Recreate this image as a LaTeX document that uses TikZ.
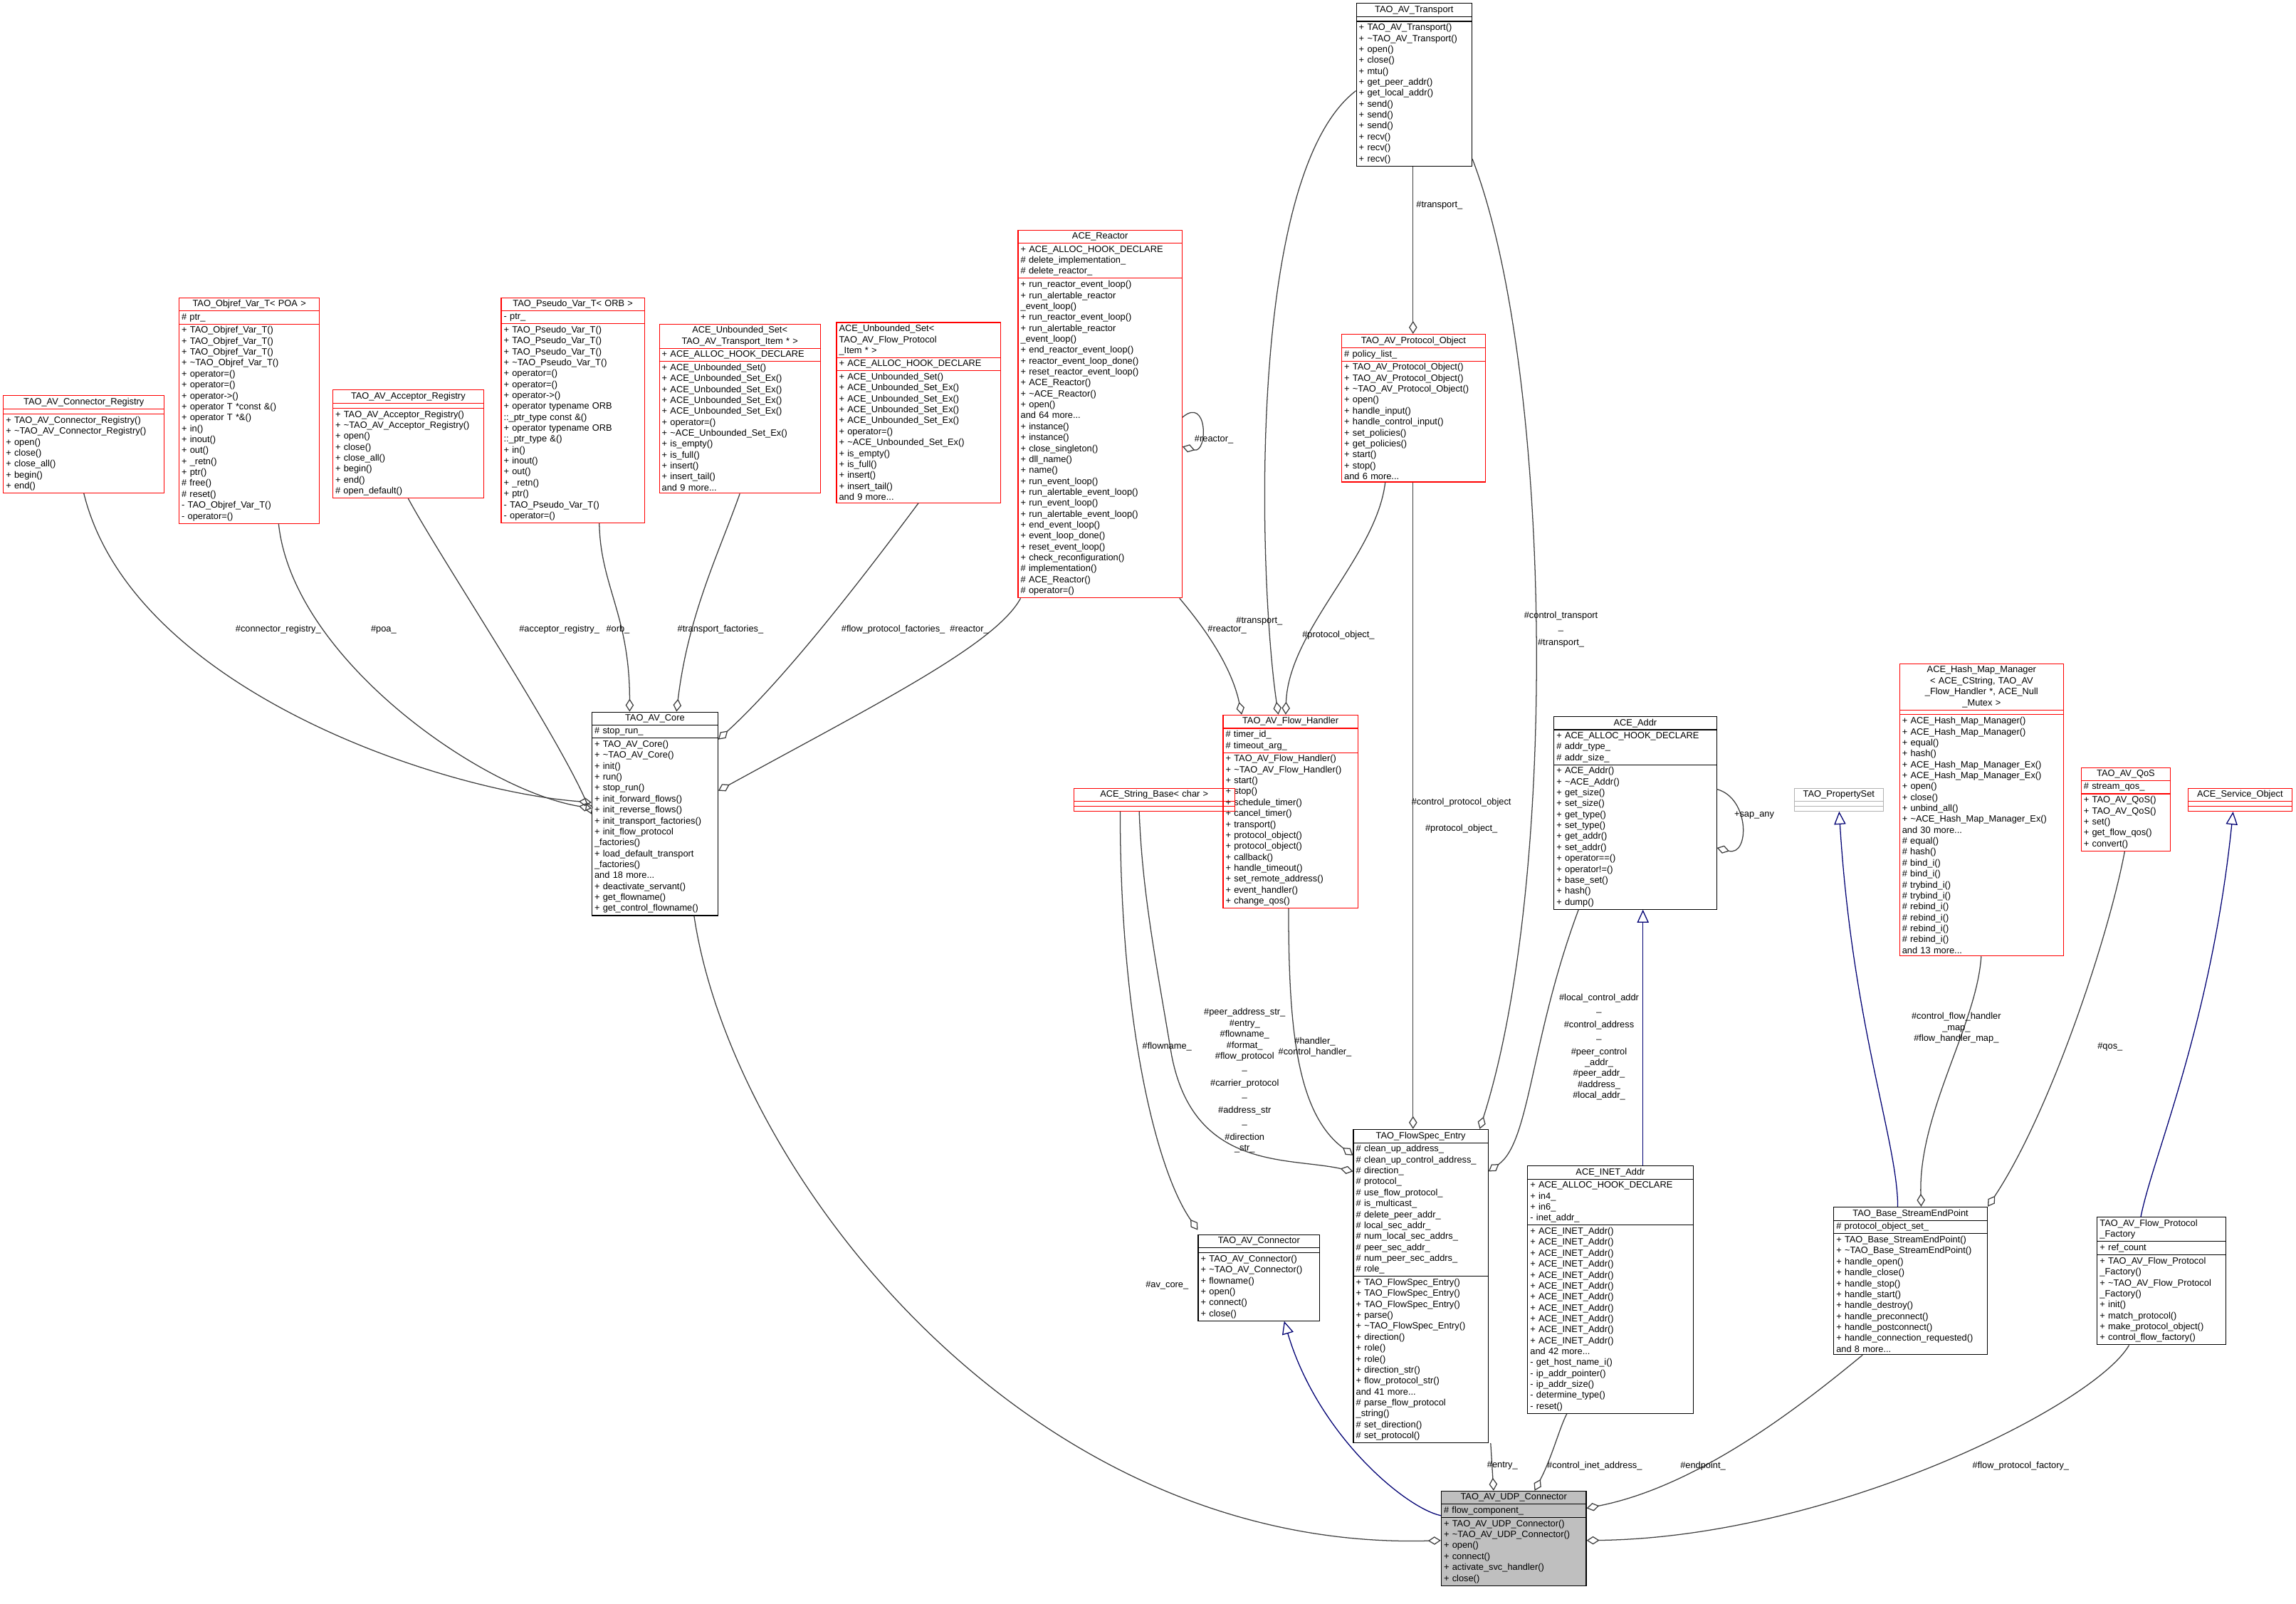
\documentclass[tikz,border=0pt]{standalone}
\usepackage{fontspec}
\setmainfont{Liberation Sans}
\usetikzlibrary{shapes.multipart, arrows.meta, calc}
\newcommand{\dt}{\textasciitilde}

\begin{document}
\catcode`\_=12
\begin{tikzpicture}[
    x=0.02cm, y=-0.02cm,
    cls/.style={rectangle split, rectangle split parts=3, draw=red, line width=0.3pt, anchor=north west,
        align=left, inner xsep=1pt, inner ysep=0.8pt, rectangle split empty part height=4pt,
        font=\fontsize{3.55}{4.25}\selectfont},
    blk/.style={cls, draw=black},
    member/.style={draw=black!75, line width=0.35pt, {Diamond[open, length=5pt, width=3.2pt]}-},
    inherit/.style={draw=blue!45!black, line width=0.35pt, {Triangle[open, length=5pt, width=4.5pt]}-},
    elabel/.style={font=\fontsize{3.55}{4.25}\selectfont, align=center}
]
\useasboundingbox (0,0) rectangle (1568,1095);

% === top row ===
\node[blk, text width=1.51cm] (transport) at (926,2) {\centering TAO_AV_Transport\par
  \nodepart{two}\mbox{}
  \nodepart{three}+ TAO_AV_Transport()\\+ \dt TAO_AV_Transport()\\+ open()\\+ close()\\+ mtu()\\+ get_peer_addr()\\+ get_local_addr()\\+ send()\\+ send()\\+ send()\\+ recv()\\+ recv()\\+ recv()};

\node[cls, text width=2.13cm] (connreg) at (2,270) {\centering TAO_AV_Connector_Registry\par
  \nodepart{two}\mbox{}
  \nodepart{three}+ TAO_AV_Connector_Registry()\\+ \dt TAO_AV_Connector_Registry()\\+ open()\\+ close()\\+ close_all()\\+ begin()\\+ end()};

\node[cls, text width=1.85cm] (objref) at (122,203) {\centering TAO_Objref_Var_T< POA >\par
  \nodepart{two}\# ptr_
  \nodepart{three}+ TAO_Objref_Var_T()\\+ TAO_Objref_Var_T()\\+ TAO_Objref_Var_T()\\+ \dt TAO_Objref_Var_T()\\+ operator=()\\+ operator=()\\+ operator->()\\+ operator T *const \&()\\+ operator T *\&()\\+ in()\\+ inout()\\+ out()\\+ _retn()\\+ ptr()\\\# free()\\\# reset()\\- TAO_Objref_Var_T()\\- operator=()};

\node[cls, text width=1.99cm] (accreg) at (227,266) {\centering TAO_AV_Acceptor_Registry\par
  \nodepart{two}\mbox{}
  \nodepart{three}+ TAO_AV_Acceptor_Registry()\\+ \dt TAO_AV_Acceptor_Registry()\\+ open()\\+ close()\\+ close_all()\\+ begin()\\+ end()\\\# open_default()};

\node[cls, text width=1.89cm] (pseudo) at (342,203) {\centering TAO_Pseudo_Var_T< ORB >\par
  \nodepart{two}- ptr_
  \nodepart{three}+ TAO_Pseudo_Var_T()\\+ TAO_Pseudo_Var_T()\\+ TAO_Pseudo_Var_T()\\+ \dt TAO_Pseudo_Var_T()\\+ operator=()\\+ operator=()\\+ operator->()\\+ operator typename ORB\\ ::_ptr_type const \&()\\+ operator typename ORB\\ ::_ptr_type \&()\\+ in()\\+ inout()\\+ out()\\+ _retn()\\+ ptr()\\- TAO_Pseudo_Var_T()\\- operator=()};

\node[cls, text width=2.13cm] (unbtrans) at (450,221) {\centering ACE_Unbounded_Set<\\TAO_AV_Transport_Item * >\par
  \nodepart{two}+ ACE_ALLOC_HOOK_DECLARE
  \nodepart{three}+ ACE_Unbounded_Set()\\+ ACE_Unbounded_Set_Ex()\\+ ACE_Unbounded_Set_Ex()\\+ ACE_Unbounded_Set_Ex()\\+ ACE_Unbounded_Set_Ex()\\+ operator=()\\+ \dt ACE_Unbounded_Set_Ex()\\+ is_empty()\\+ is_full()\\+ insert()\\+ insert_tail()\\and 9 more...};

\node[cls, text width=2.17cm] (unbflow) at (571,220) {\raggedright ACE_Unbounded_Set<\\ TAO_AV_Flow_Protocol\\ _Item * >
  \nodepart{two}+ ACE_ALLOC_HOOK_DECLARE
  \nodepart{three}+ ACE_Unbounded_Set()\\+ ACE_Unbounded_Set_Ex()\\+ ACE_Unbounded_Set_Ex()\\+ ACE_Unbounded_Set_Ex()\\+ ACE_Unbounded_Set_Ex()\\+ operator=()\\+ \dt ACE_Unbounded_Set_Ex()\\+ is_empty()\\+ is_full()\\+ insert()\\+ insert_tail()\\and 9 more...};

\node[cls, text width=2.17cm] (reactor) at (695,157) {\centering ACE_Reactor\par
  \nodepart{two}+ ACE_ALLOC_HOOK_DECLARE\\\# delete_implementation_\\\# delete_reactor_
  \nodepart{three}+ run_reactor_event_loop()\\+ run_alertable_reactor\\ _event_loop()\\+ run_reactor_event_loop()\\+ run_alertable_reactor\\ _event_loop()\\+ end_reactor_event_loop()\\+ reactor_event_loop_done()\\+ reset_reactor_event_loop()\\+ ACE_Reactor()\\+ \dt ACE_Reactor()\\+ open()\\and 64 more...\\+ instance()\\+ instance()\\+ close_singleton()\\+ dll_name()\\+ name()\\+ run_event_loop()\\+ run_alertable_event_loop()\\+ run_event_loop()\\+ run_alertable_event_loop()\\+ end_event_loop()\\+ event_loop_done()\\+ reset_event_loop()\\+ check_reconfiguration()\\\# implementation()\\\# ACE_Reactor()\\\# operator=()};

\node[cls, text width=1.89cm] (protobj) at (916,228) {\centering TAO_AV_Protocol_Object\par
  \nodepart{two}\# policy_list_
  \nodepart{three}+ TAO_AV_Protocol_Object()\\+ TAO_AV_Protocol_Object()\\+ \dt TAO_AV_Protocol_Object()\\+ open()\\+ handle_input()\\+ handle_control_input()\\+ set_policies()\\+ get_policies()\\+ start()\\+ stop()\\and 6 more...};

% === middle row ===
\node[blk, text width=1.65cm] (core) at (404,486) {\centering TAO_AV_Core\par
  \nodepart{two}\# stop_run_
  \nodepart{three}+ TAO_AV_Core()\\+ \dt TAO_AV_Core()\\+ init()\\+ run()\\+ stop_run()\\+ init_forward_flows()\\+ init_reverse_flows()\\+ init_transport_factories()\\+ init_flow_protocol\\ _factories()\\+ load_default_transport\\ _factories()\\and 18 more...\\+ deactivate_servant()\\+ get_flowname()\\+ get_control_flowname()};

\node[cls, text width=1.77cm] (handler) at (835,488) {\centering TAO_AV_Flow_Handler\par
  \nodepart{two}\# timer_id_\\\# timeout_arg_
  \nodepart{three}+ TAO_AV_Flow_Handler()\\+ \dt TAO_AV_Flow_Handler()\\+ start()\\+ stop()\\+ schedule_timer()\\+ cancel_timer()\\+ transport()\\+ protocol_object()\\+ protocol_object()\\+ callback()\\+ handle_timeout()\\+ set_remote_address()\\+ event_handler()\\+ change_qos()};

\node[cls, text width=2.13cm] (strbase) at (733,538) {\centering ACE_String_Base< char >\par
  \nodepart{two}\mbox{}
  \nodepart{three}\mbox{}};

\node[blk, text width=2.15cm] (addr) at (1061,489) {\centering ACE_Addr\par
  \nodepart{two}+ ACE_ALLOC_HOOK_DECLARE\\\# addr_type_\\\# addr_size_
  \nodepart{three}+ ACE_Addr()\\+ \dt ACE_Addr()\\+ get_size()\\+ set_size()\\+ get_type()\\+ set_type()\\+ get_addr()\\+ set_addr()\\+ operator==()\\+ operator!=()\\+ base_set()\\+ hash()\\+ dump()};

\node[cls, draw=black!30, text width=1.15cm] (propset) at (1225,538) {\centering TAO_PropertySet\par
  \nodepart{two}\mbox{}
  \nodepart{three}\mbox{}};

\node[cls, text width=2.17cm] (hashmap) at (1297,453) {\centering ACE_Hash_Map_Manager\\< ACE_CString, TAO_AV\\_Flow_Handler *, ACE_Null\\_Mutex >\par
  \nodepart{two}\mbox{}
  \nodepart{three}+ ACE_Hash_Map_Manager()\\+ ACE_Hash_Map_Manager()\\+ equal()\\+ hash()\\+ ACE_Hash_Map_Manager_Ex()\\+ ACE_Hash_Map_Manager_Ex()\\+ open()\\+ close()\\+ unbind_all()\\+ \dt ACE_Hash_Map_Manager_Ex()\\and 30 more...\\\# equal()\\\# hash()\\\# bind_i()\\\# bind_i()\\\# trybind_i()\\\# trybind_i()\\\# rebind_i()\\\# rebind_i()\\\# rebind_i()\\\# rebind_i()\\and 13 more...};

\node[cls, text width=1.15cm] (qos) at (1421,524) {\centering TAO_AV_QoS\par
  \nodepart{two}\# stream_qos_
  \nodepart{three}+ TAO_AV_QoS()\\+ TAO_AV_QoS()\\+ set()\\+ get_flow_qos()\\+ convert()};

\node[cls, text width=1.35cm] (svcobj) at (1494,538) {\centering ACE_Service_Object\par
  \nodepart{two}\mbox{}
  \nodepart{three}\mbox{}};

% === lower row ===
\node[blk, text width=1.77cm] (flowspec) at (924,771) {\centering TAO_FlowSpec_Entry\par
  \nodepart{two}\# clean_up_address_\\\# clean_up_control_address_\\\# direction_\\\# protocol_\\\# use_flow_protocol_\\\# is_multicast_\\\# delete_peer_addr_\\\# local_sec_addr_\\\# num_local_sec_addrs_\\\# peer_sec_addr_\\\# num_peer_sec_addrs_\\\# role_
  \nodepart{three}+ TAO_FlowSpec_Entry()\\+ TAO_FlowSpec_Entry()\\+ TAO_FlowSpec_Entry()\\+ parse()\\+ \dt TAO_FlowSpec_Entry()\\+ direction()\\+ role()\\+ role()\\+ direction_str()\\+ flow_protocol_str()\\and 41 more...\\\# parse_flow_protocol\\ _string()\\\# set_direction()\\\# set_protocol()};

\node[blk, text width=2.19cm] (inet) at (1043,796) {\centering ACE_INET_Addr\par
  \nodepart{two}+ ACE_ALLOC_HOOK_DECLARE\\+ in4_\\+ in6_\\- inet_addr_
  \nodepart{three}+ ACE_INET_Addr()\\+ ACE_INET_Addr()\\+ ACE_INET_Addr()\\+ ACE_INET_Addr()\\+ ACE_INET_Addr()\\+ ACE_INET_Addr()\\+ ACE_INET_Addr()\\+ ACE_INET_Addr()\\+ ACE_INET_Addr()\\+ ACE_INET_Addr()\\+ ACE_INET_Addr()\\and 42 more...\\- get_host_name_i()\\- ip_addr_pointer()\\- ip_addr_size()\\- determine_type()\\- reset()};

\node[blk, text width=1.59cm] (avconn) at (818,843) {\centering TAO_AV_Connector\par
  \nodepart{two}\mbox{}
  \nodepart{three}+ TAO_AV_Connector()\\+ \dt TAO_AV_Connector()\\+ flowname()\\+ open()\\+ connect()\\+ close()};

\node[blk, text width=2.03cm] (endpoint) at (1252,824) {\centering TAO_Base_StreamEndPoint\par
  \nodepart{two}\# protocol_object_set_
  \nodepart{three}+ TAO_Base_StreamEndPoint()\\+ \dt TAO_Base_StreamEndPoint()\\+ handle_open()\\+ handle_close()\\+ handle_stop()\\+ handle_start()\\+ handle_destroy()\\+ handle_preconnect()\\+ handle_postconnect()\\+ handle_connection_requested()\\and 8 more...};

\node[blk, text width=1.69cm] (factory) at (1432,831) {\raggedright TAO_AV_Flow_Protocol\\ _Factory
  \nodepart{two}+ ref_count
  \nodepart{three}+ TAO_AV_Flow_Protocol\\ _Factory()\\+ \dt TAO_AV_Flow_Protocol\\ _Factory()\\+ init()\\+ match_protocol()\\+ make_protocol_object()\\+ control_flow_factory()};

\node[blk, fill=black!25, text width=1.91cm] (udp) at (984,1018) {\centering TAO_AV_UDP_Connector\par
  \nodepart{two}\# flow_component_
  \nodepart{three}+ TAO_AV_UDP_Connector()\\+ \dt TAO_AV_UDP_Connector()\\+ open()\\+ connect()\\+ activate_svc_handler()\\+ close()};

% === members of TAO_AV_Core ===
\draw[member] ($(core.north west)+(0,62)$) .. controls (300,540) and (90,470) .. (connreg.south);
\draw[member] ($(core.north west)+(0,66)$) .. controls (330,540) and (200,450) .. ($(objref.south)+(20,0)$);
\draw[member] ($(core.north west)+(0,70)$) .. controls (380,500) and (300,380) .. (accreg.south);
\draw[member] ($(core.north west)+(26,0)$) .. controls (430,420) and (410,400) .. ($(pseudo.south)+(18,0)$);
\draw[member] ($(core.north west)+(58,0)$) .. controls (470,420) and (490,380) .. (unbtrans.south);
\draw[member] ($(core.north east)+(0,19)$) .. controls (540,460) and (600,380) .. (unbflow.south);
\draw[member] ($(core.north east)+(0,54)$) .. controls (600,480) and (680,440) .. ($(reactor.south west)+(2,0)$);
\node[elabel] (lconnreg) at (190,430) {\#connector_registry_};
\node[elabel] (lpoa) at (262,430) {\#poa_};
\node[elabel] (laccreg) at (382,430) {\#acceptor_registry_};
\node[elabel] (lorb) at (422,430) {\#orb_};
\node[elabel] (ltrfac) at (492,430) {\#transport_factories_};
\node[elabel] (lflfac) at (610,430) {\#flow_protocol_factories_};
\node[elabel] (lreac1) at (662,430) {\#reactor_};

% === ACE_Reactor self ===
\draw[member] ($(reactor.north east)+(0,148)$) .. controls (825,310) and (825,270) .. ($(reactor.north east)+(0,128)$);
\node[elabel] (lreac2) at (829,300) {\#reactor_};

% === members of TAO_AV_Flow_Handler ===
\draw[member] ($(handler.north west)+(13,0)$) .. controls (840,450) and (815,420) .. ($(reactor.south east)+(-2,0)$);
\draw[member] ($(handler.north west)+(38,0)$) .. controls (860,400) and (850,120) .. ($(transport.north west)+(0,60)$);
\draw[member] ($(handler.north west)+(43,0)$) .. controls (880,430) and (940,380) .. ($(protobj.south west)+(30,0)$);
\node[elabel] (lreac3) at (838,430) {\#reactor_};
\node[elabel] (ltrans1) at (860,424) {\#transport_};
\node[elabel] (lprot1) at (914,434) {\#protocol_object_};

% === TAO_AV_Protocol_Object ===
\draw[member] ($(protobj.north west)+(49,0)$) -- ($(transport.south west)+(39,0)$);
\node[elabel] (ltrans2) at (983,140) {\#transport_};

% === members of TAO_FlowSpec_Entry ===
\draw[member] ($(flowspec.north east)+(-6,0)$) .. controls (1065,600) and (1060,250) .. ($(transport.south east)+(0,-5)$);
\draw[member] ($(flowspec.north west)+(41,0)$) -- ($(protobj.south west)+(49,0)$);
\draw[member] ($(flowspec.north west)+(0,29)$) .. controls (880,790) and (815,800) .. (800,720) .. controls (790,660) and (780,610) .. ($(strbase.south west)+(45,0)$);
\draw[member] ($(flowspec.north west)+(0,18)$) .. controls (885,760) and (880,700) .. ($(handler.south west)+(45,0)$);
\draw[member] ($(flowspec.north east)+(0,29)$) .. controls (1045,780) and (1045,710) .. ($(addr.south west)+(17,0)$);
\node[elabel] (ltrans3) at (1066,430) {\#control_transport\\_\\[2pt]\#transport_};
\node[elabel] (lprot2) at (998,557) {\#control_protocol_object\\[6pt]\#protocol_object_};
\node[elabel] (lstr) at (850,738) {\#peer_address_str_\\\#entry_\\\#flowname_\\\#format_\\\#flow_protocol\\_\\[2pt]\#carrier_protocol\\_\\[2pt]\#address_str\\_\\[2pt]\#direction\\_str_};
\node[elabel] (lhandler) at (898,715) {\#handler_\\\#control_handler_};
\node[elabel] (laddr) at (1092,715) {\#local_control_addr\\_\\[2pt]\#control_address\\_\\[2pt]\#peer_control\\_addr_\\\#peer_addr_\\\#address_\\\#local_addr_};

% === ACE_Addr self ===
\draw[member] ($(addr.north east)+(0,90)$) .. controls (1195,585) and (1195,545) .. ($(addr.north east)+(0,50)$);
\node[elabel] (lsap) at (1198,557) {+sap_any};

% === TAO_AV_Connector ===
\draw[member] ($(avconn.north west)+(0,-3)$) .. controls (790,800) and (765,700) .. ($(strbase.south west)+(32,0)$);
\node[elabel] (lflow) at (797,715) {\#flowname_};

% === TAO_Base_StreamEndPoint ===
\draw[member] ($(endpoint.north west)+(60,0)$) .. controls (1310,760) and (1350,700) .. ($(hashmap.south west)+(56,0)$);
\draw[member] ($(endpoint.north east)+(0,0)$) .. controls (1400,760) and (1440,640) .. ($(qos.south west)+(30,0)$);
\node[elabel] (lhash) at (1336,702) {\#control_flow_handler\\_map_\\\#flow_handler_map_};
\node[elabel] (lqos) at (1441,715) {\#qos_};

% === inheritance ===
\draw[inherit] ($(addr.south west)+(61,0)$) -- ($(inet.north west)+(79,0)$);
\draw[inherit] ($(propset.south west)+(31,0)$) .. controls (1265,700) and (1296,780) .. ($(endpoint.north west)+(44,0)$);
\draw[inherit] ($(svcobj.south west)+(31,0)$) .. controls (1510,700) and (1470,790) .. ($(factory.north west)+(30,0)$);
\draw[inherit] ($(avconn.south west)+(59,0)$) .. controls (900,980) and (960,1030) .. ($(udp.north west)+(0,17)$);

% === members of TAO_AV_UDP_Connector ===
\draw[member] ($(udp.north west)+(0,34)$) .. controls (700,1060) and (500,800) .. ($(core.south west)+(70,0)$);
\draw[member] ($(udp.north west)+(36,0)$) -- ($(flowspec.south west)+(94,0)$);
\draw[member] ($(udp.north west)+(64,0)$) .. controls (1060,995) and (1065,975) .. ($(inet.south west)+(27,0)$);
\draw[member] ($(udp.north east)+(0,12)$) .. controls (1160,1015) and (1230,960) .. ($(endpoint.south west)+(20,0)$);
\draw[member] ($(udp.north east)+(0,34)$) .. controls (1250,1050) and (1430,960) .. ($(factory.south west)+(22,0)$);
\node[elabel] (lcore) at (797,878) {\#av_core_};
\node[elabel] (lentry) at (1026,1001) {\#entry_};
\node[elabel] (linet) at (1089,1001) {\#control_inet_address_};
\node[elabel] (lendp) at (1163,1001) {\#endpoint_};
\node[elabel] (lfact) at (1380,1001) {\#flow_protocol_factory_};
\end{tikzpicture}
\end{document}
